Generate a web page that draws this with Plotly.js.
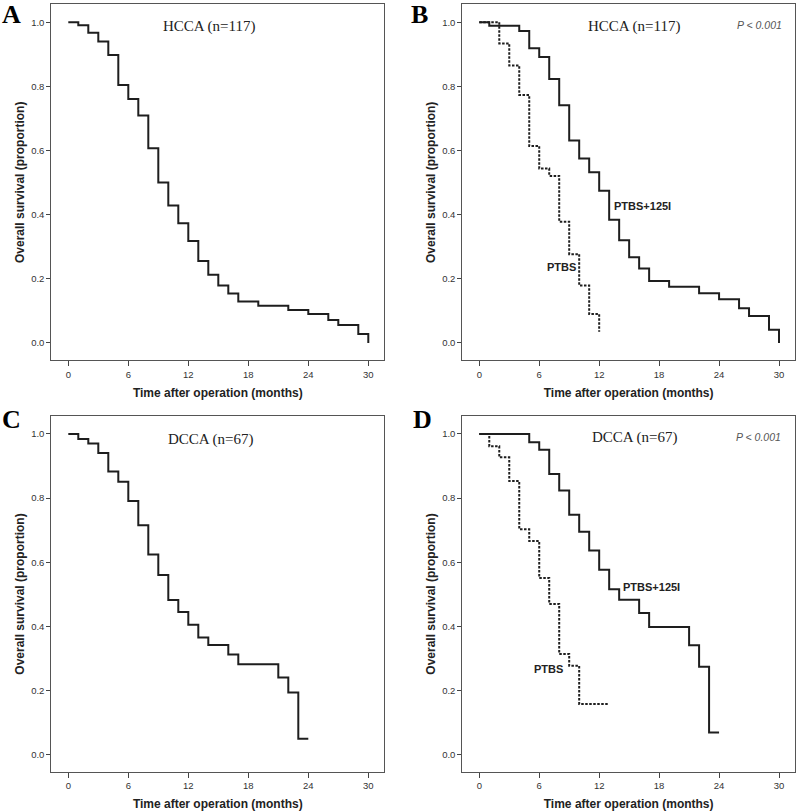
<!DOCTYPE html>
<html>
<head>
<meta charset="utf-8">
<script src="https://cdn.plot.ly/plotly-3.0.1.min.js"></script>
<style>html,body{margin:0;padding:0;background:#fff;}#chart{width:797px;height:811px;}</style>
</head>
<body>
<div id="chart"></div>
<script>
// ---- Data ----
// Panel A: HCCA overall
const hccaTime = [0,1,2,3,4,5,6,7,8,9,10,11,12,13,14,15,16,17,19,22,24,26,27,29,30];
const hccaSurv = [1,0.991,0.967,0.940,0.898,0.804,0.761,0.709,0.607,0.500,0.429,0.373,0.318,0.256,0.213,0.179,0.154,0.129,0.116,0.103,0.090,0.072,0.056,0.028,0.0];
// Panel B: HCCA by treatment
const hccaIodTime = [0,1,4,5,6,7,8,9,10,11,12,13,14,15,16,17,19,22,24,26,27,29,30];
const hccaIodSurv = [1,0.989,0.973,0.919,0.892,0.823,0.741,0.631,0.575,0.532,0.475,0.384,0.320,0.267,0.232,0.193,0.175,0.155,0.136,0.108,0.084,0.041,0.0];
const hccaPtbsTime = [0,2,3,4,5,6,7,8,9,10,11,12];
const hccaPtbsSurv = [1,0.934,0.865,0.773,0.614,0.544,0.521,0.378,0.277,0.179,0.090,0.035];
// Panel C: DCCA overall
const dccaTime = [0,1,2,3,4,5,6,7,8,9,10,11,12,13,14,16,17,21,22,23,24];
const dccaSurv = [1,0.984,0.970,0.941,0.883,0.851,0.791,0.715,0.624,0.560,0.482,0.445,0.405,0.365,0.342,0.312,0.282,0.241,0.194,0.050,0.050];
// Panel D: DCCA by treatment
const dccaIodTime = [0,5,6,7,8,9,10,11,12,13,14,16,17,21,22,23,24];
const dccaIodSurv = [1,0.974,0.951,0.875,0.824,0.748,0.695,0.637,0.577,0.516,0.483,0.442,0.398,0.341,0.274,0.069,0.069];
const dccaPtbsTime = [0,1,2,3,4,5,6,7,8,9,10,13];
const dccaPtbsSurv = [1,0.962,0.927,0.853,0.703,0.666,0.551,0.470,0.314,0.277,0.158,0.158];

const xTicks = [0,6,12,18,24,30];
const yTicks = [0,0.2,0.4,0.6,0.8,1.0];
const panelLetters = ['A','B','C','D'];
const panelTitles = ['HCCA (n=117)','HCCA (n=117)','DCCA (n=67)','DCCA (n=67)'];
const groupLabels = ['PTBS+125I','PTBS'];
const pText = 'P < 0.001';
const xTitle = 'Time after operation (months)';
const yTitle = 'Overall survival (proportion)';

// ---- Styling ----
const W = 797, H = 811;
const lineCol = '#1e1e1e';
const solid = {color: lineCol, width: 2, shape: 'hv'};
const dotted = {color: lineCol, width: 2, shape: 'hv', dash: '2.5px,1.5px'};

function step(x, y, xa, ya, line) {
  return {x: x, y: y, xaxis: xa, yaxis: ya, type: 'scatter', mode: 'lines', line: line, hoverinfo: 'skip'};
}

const traces = [
  step(hccaTime, hccaSurv, 'x', 'y', solid),
  step(hccaIodTime, hccaIodSurv, 'x2', 'y2', solid),
  step(hccaPtbsTime, hccaPtbsSurv, 'x2', 'y2', dotted),
  step(dccaTime, dccaSurv, 'x3', 'y3', solid),
  step(dccaIodTime, dccaIodSurv, 'x4', 'y4', solid),
  step(dccaPtbsTime, dccaPtbsSurv, 'x4', 'y4', dotted)
];

const px = v => v / W;
const py = v => 1 - v / H;
const xDomL = [px(51.3), px(384.3)];
const xDomR = [px(462.3), px(795)];
const yDomT = [py(360.3), py(4.3)];
const yDomB = [py(772), py(416)];

function xAxis(domain, anchor) {
  return {
    domain: domain, anchor: anchor, range: [-1.7, 31.6],
    tickvals: xTicks, ticktext: xTicks.map(String),
    ticks: 'outside', ticklen: 5, tickwidth: 1, tickcolor: '#444',
    showline: true, mirror: true, linecolor: '#555', linewidth: 1,
    showgrid: false, zeroline: false,
    tickfont: {family: 'Liberation Sans, Arial, sans-serif', size: 9.5, color: '#333'},
    title: {text: xTitle, standoff: 9, font: {family: 'Liberation Sans, Arial, sans-serif', size: 12, color: '#222', weight: 'bold'}},
    fixedrange: true
  };
}
function yAxis(domain, anchor) {
  return {
    domain: domain, anchor: anchor, range: [-0.054, 1.056],
    tickvals: yTicks, tickformat: '.1f',
    ticks: 'outside', ticklen: 4, tickwidth: 1, tickcolor: '#444',
    showline: true, mirror: true, linecolor: '#555', linewidth: 1,
    showgrid: false, zeroline: false,
    tickfont: {family: 'Liberation Sans, Arial, sans-serif', size: 9.5, color: '#333'},
    title: {text: yTitle, standoff: 3, font: {family: 'Liberation Sans, Arial, sans-serif', size: 12, color: '#222', weight: 'bold'}},
    fixedrange: true
  };
}

const serif = 'Liberation Serif, Times New Roman, serif';
const sansB = {family: 'Liberation Sans, Arial, sans-serif', size: 11, color: '#222', weight: 'bold'};
const ann = [];
// panel letters
const letterPos = [[0, 14], [409, 14], [0, 419], [411, 419]];
panelLetters.forEach((t, i) => ann.push({
  text: t, xref: 'paper', yref: 'paper', x: px(letterPos[i][0]), y: py(letterPos[i][1]),
  xanchor: 'left', yanchor: 'middle', showarrow: false,
  font: {family: serif, size: 26, color: '#000', weight: 'bold'}
}));
// panel titles
const titlePos = [['x','y',14.1,0.988],['x2','y2',15.5,0.988],['x3','y3',14.25,0.984],['x4','y4',15.6,0.988]];
panelTitles.forEach((t, i) => ann.push({
  text: t, xref: titlePos[i][0], yref: titlePos[i][1], x: titlePos[i][2], y: titlePos[i][3],
  xanchor: 'center', yanchor: 'middle', showarrow: false,
  font: {family: serif, size: 15, color: '#222'}
}));
// p values
[['x2','y2',30.47,0.992],['x4','y4',30.37,0.989]].forEach(p => ann.push({
  text: pText, xref: p[0], yref: p[1], x: p[2], y: p[3], xanchor: 'right', yanchor: 'middle',
  showarrow: false, font: {family: 'Liberation Sans, Arial, sans-serif', size: 10.5, color: '#555', style: 'italic'}
}));
// group labels
[['x2','y2',16.3,0.427,0],['x2','y2',8.2,0.237,1],['x4','y4',17.2,0.524,0],['x4','y4',6.9,0.267,1]].forEach(g => ann.push({
  text: groupLabels[g[4]], xref: g[0], yref: g[1], x: g[2], y: g[3], xanchor: 'center', yanchor: 'middle',
  showarrow: false, font: sansB
}));

const layout = {
  width: W, height: H, margin: {l: 0, r: 0, t: 0, b: 0},
  paper_bgcolor: '#fff', plot_bgcolor: '#fff', showlegend: false,
  xaxis: xAxis(xDomL, 'y'), yaxis: yAxis(yDomT, 'x'),
  xaxis2: xAxis(xDomR, 'y2'), yaxis2: yAxis(yDomT, 'x2'),
  xaxis3: xAxis(xDomL, 'y3'), yaxis3: yAxis(yDomB, 'x3'),
  xaxis4: xAxis(xDomR, 'y4'), yaxis4: yAxis(yDomB, 'x4'),
  annotations: ann
};

Plotly.newPlot('chart', traces, layout, {displayModeBar: false, staticPlot: true});
</script>
</body>
</html>
